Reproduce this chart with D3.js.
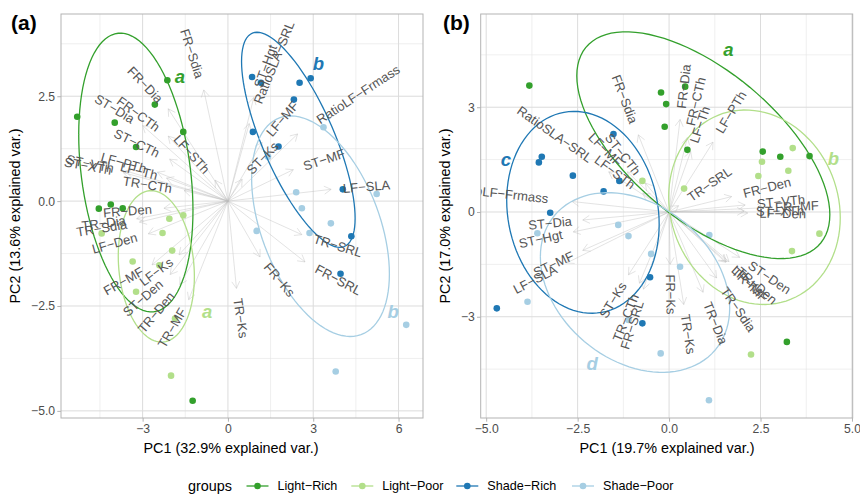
<!DOCTYPE html>
<html>
<head>
<meta charset="utf-8">
<script src="https://cdn.jsdelivr.net/npm/d3@7"></script>
<style>
  body { margin: 0; background: #fff; }
  svg text { font-family: "Liberation Sans", Arial, Helvetica, sans-serif; }
</style>
</head>
<body>
<svg id="chart" width="860" height="496"></svg>
<script>
// ---- data: groups ----
const groupNames = ["Light-Rich", "Light-Poor", "Shade-Rich", "Shade-Poor"];
const groupColors = ["#33a02c", "#b2df8a", "#1f78b4", "#a6cee3"];

// ---- data: panel (a) scores ----
const lightRichA = [[-2.13, 2.88], [-2.57, 2.30], [-5.30, 2.01], [-3.98, 1.87], [-1.57, 1.65], [-3.23, 1.29], [-4.54, -0.18], [-4.12, -0.08], [-3.70, -0.17], [-1.24, -4.76]];
const lightPoorA = [[-1.57, -0.34], [-2.06, -0.42], [-4.44, -0.77], [-2.30, -0.76], [-1.96, -1.18], [-3.35, -1.44], [-2.41, -1.53], [-3.23, -2.16], [-1.86, -2.80], [-2.00, -4.16]];
const shadeRichA = [[0.85, 2.96], [1.16, 2.82], [2.52, 2.82], [2.91, 2.93], [2.32, 2.42], [0.88, 1.65], [1.78, 1.30], [4.04, 0.28], [4.34, -0.84], [3.96, -1.73]];
const shadePoorA = [[3.36, 1.76], [5.23, 0.17], [2.40, 0.21], [2.60, -0.17], [3.62, -0.53], [1.01, -0.71], [2.87, -0.76], [6.27, -2.95], [3.79, -4.06], [1.41, 1.06]];

// ---- data: panel (b) scores ----
const lightRichB = [[-3.82, 3.62], [-0.22, 3.42], [-0.08, 3.09], [-0.12, 2.44], [0.44, 3.59], [0.50, 1.78], [2.56, 1.73], [3.04, 1.58], [3.84, 1.60], [3.22, -3.72]];
const lightPoorB = [[-0.73, 0.89], [0.41, 0.67], [3.38, 1.83], [2.54, 1.44], [3.26, 1.18], [2.44, 1.03], [4.11, -0.62], [3.36, -1.12], [2.24, -4.08]];
const shadeRichB = [[-1.52, 2.23], [-3.48, 1.58], [-3.56, 1.42], [-2.63, 1.04], [-1.36, 0.89], [-1.79, 0.59], [-3.25, -0.02], [-4.71, -2.76], [-0.52, -1.87], [-0.73, -3.19]];
const shadePoorB = [[-3.60, -0.61], [-1.39, -0.37], [-1.11, -0.69], [-0.49, -1.20], [-3.87, -2.57], [-1.11, -3.09], [-0.23, -4.05], [1.10, -0.66], [0.30, -1.57], [1.09, -5.39]];

// ---- data: trait loadings (arrow tips) ----
const varNames = ["FR-Sdia", "FR-Dia", "FR-CTh", "FR-Den", "FR-MF", "FR-Ks", "FR-SRL",
  "ST-Dia", "ST-CTh", "ST-XTh", "ST-VTh", "ST-Den", "ST-MF", "ST-Ks", "ST-Hgt",
  "LF-STh", "LF-PTh", "LF-Th", "LF-Den", "LF-Ks", "LF-SLA", "LF-MF",
  "TR-CTh", "TR-Dia", "TR-Sdia", "TR-Den", "TR-MF", "TR-Ks", "TR-SRL",
  "RatioLF-Frmass", "RatioSLA-SRL"];
const loadA = [[-0.85, 2.65], [-2.1, 2.2], [-2.1, 1.55], [-2.25, -0.17], [-2.67, -1.52], [1.13, -1.33], [2.71, -1.45],
  [-3.0, 1.8], [-2.05, 1.0], [-3.68, 0.68], [-3.6, 0.72], [-2.03, -1.75], [2.3, 0.75], [0.5, 0.52], [0.91, 2.47],
  [-0.45, 0.5], [-2.48, 0.69], [-2.16, 0.55], [-2.8, -0.78], [-1.72, -1.28], [3.63, 0.28], [1.2, 1.4],
  [-1.54, 0.25], [-3.21, -0.42], [-3.11, -0.5], [-1.69, -1.99], [-1.38, -2.35], [0.3, -2.08], [2.6, -0.8],
  [2.45, 1.6], [0.75, 1.85]];
const loadB = [[-0.84, 2.21], [0.3, 2.65], [0.5, 2.13], [1.71, 0.44], [2.6, 0.12], [0.03, -1.5], [-0.7, -2.21],
  [-2.36, -0.23], [-0.65, 0.83], [2.05, 0.02], [2.08, 0.2], [1.93, -1.3], [-2.36, -1.1], [-1.11, -1.8], [-2.62, -0.57],
  [-0.72, 0.54], [1.2, 2.0], [0.59, 1.73], [2.15, -0.03], [1.57, -1.42], [-2.8, -1.46], [-1.14, 1.15],
  [-0.81, -2.04], [0.93, -2.3], [1.3, -1.89], [1.64, -1.42], [1.55, -1.44], [0.4, -2.65], [0.26, 0.18],
  [-2.65, 0.3], [-1.65, 1.15]];

// ---- data: group letters (annotations) ----
const lettersA = [["a", 0, -1.69, 2.98], ["b", 2, 3.18, 3.28], ["a", 1, -0.73, -2.64], ["b", 3, 5.81, -2.64]];
const lettersB = [["a", 0, 1.62, 4.64], ["b", 1, 4.49, 1.54], ["c", 2, -4.46, 1.51], ["d", 3, -2.10, -4.34]];

// ---- tick labels ----
const xTicksA = [-3, 0, 3, 6], xLabelsA = ["\u22123", "0", "3", "6"];
const yTicksA = [-5, -2.5, 0, 2.5], yLabelsA = ["\u22125.0", "\u22122.5", "0.0", "2.5"];
const xTicksB = [-5, -2.5, 0, 2.5, 5], xLabelsB = ["\u22125.0", "\u22122.5", "0.0", "2.5", "5.0"];
const yTicksB = [-3, 0, 3], yLabelsB = ["\u22123", "0", "3"];

const minus = s => s.replace(/-/g, "\u2212");
const svg = d3.select("#chart");

// 68% normal-probability ellipse, as in ggbiplot
function ellipsePts(pts) {
  const n = pts.length;
  const mx = d3.mean(pts, d => d[0]), my = d3.mean(pts, d => d[1]);
  let sxx = 0, syy = 0, sxy = 0;
  pts.forEach(d => {
    sxx += (d[0] - mx) ** 2; syy += (d[1] - my) ** 2; sxy += (d[0] - mx) * (d[1] - my);
  });
  sxx /= n - 1; syy /= n - 1; sxy /= n - 1;
  const a = Math.sqrt(sxx), b = sxy / a, c = Math.sqrt(syy - b * b);
  const ed = Math.sqrt(-2 * Math.log(1 - 0.68));
  return d3.range(101).map(k => {
    const th = -Math.PI + 2 * Math.PI * k / 100;
    const co = Math.cos(th), si = Math.sin(th);
    return [mx + ed * co * a, my + ed * (co * b + si * c)];
  });
}

function drawPanel(cfg) {
  const x = d3.scaleLinear().domain(cfg.xDomain).range([cfg.left, cfg.right]);
  const y = d3.scaleLinear().domain(cfg.yDomain).range([cfg.bottom, cfg.top]);
  const w = cfg.right - cfg.left, h = cfg.bottom - cfg.top;

  svg.append("clipPath").attr("id", cfg.id)
    .append("rect").attr("x", cfg.left).attr("y", cfg.top).attr("width", w).attr("height", h);

  // grid
  const grid = svg.append("g");
  cfg.xMinor.forEach(v => grid.append("line").attr("x1", x(v)).attr("x2", x(v)).attr("y1", cfg.top).attr("y2", cfg.bottom)
    .attr("stroke", "#e4e4e4").attr("stroke-width", 0.6));
  cfg.yMinor.forEach(v => grid.append("line").attr("y1", y(v)).attr("y2", y(v)).attr("x1", cfg.left).attr("x2", cfg.right)
    .attr("stroke", "#e4e4e4").attr("stroke-width", 0.6));
  cfg.xTicks.forEach(v => grid.append("line").attr("x1", x(v)).attr("x2", x(v)).attr("y1", cfg.top).attr("y2", cfg.bottom)
    .attr("stroke", "#dcdcdc").attr("stroke-width", 1));
  cfg.yTicks.forEach(v => grid.append("line").attr("y1", y(v)).attr("y2", y(v)).attr("x1", cfg.left).attr("x2", cfg.right)
    .attr("stroke", "#dcdcdc").attr("stroke-width", 1));

  const body = svg.append("g").attr("clip-path", `url(#${cfg.id})`);

  // arrows
  cfg.loads.forEach(d => {
    const x1 = x(d[0]), y1 = y(d[1]), x0 = x(0), y0 = y(0);
    const ang = Math.atan2(y1 - y0, x1 - x0), L = 8;
    const a1 = ang + Math.PI - Math.PI / 6, a2 = ang + Math.PI + Math.PI / 6;
    body.append("path")
      .attr("d", `M${x0},${y0}L${x1},${y1}M${x1 + L * Math.cos(a1)},${y1 + L * Math.sin(a1)}L${x1},${y1}L${x1 + L * Math.cos(a2)},${y1 + L * Math.sin(a2)}`)
      .attr("fill", "none").attr("stroke", "#bcbcbc").attr("stroke-opacity", 0.6).attr("stroke-width", 0.7);
  });

  // points
  cfg.groups.forEach((pts, gi) => {
    body.selectAll(null).data(pts).enter().append("circle")
      .attr("cx", d => x(d[0])).attr("cy", d => y(d[1])).attr("r", 3.3)
      .attr("fill", groupColors[gi]);
  });

  // ellipses
  const line = d3.line().x(d => x(d[0])).y(d => y(d[1]));
  cfg.groups.forEach((pts, gi) => {
    body.append("path").datum(ellipsePts(pts)).attr("d", line)
      .attr("fill", "none").attr("stroke", groupColors[gi]).attr("stroke-width", 1.3);
  });

  // trait labels, rotated like ggbiplot
  varNames.forEach((n, i) => {
    const [vx, vy] = cfg.loads[i];
    const ang = Math.atan(vy / vx) * 180 / Math.PI;
    const t = body.append("text")
      .attr("transform", `translate(${x(vx)},${y(vy)}) rotate(${-ang})`)
      .attr("dy", "0.35em").attr("font-size", 13).attr("fill", "#555")
      .text(minus(n));
    const tw = t.node().getComputedTextLength();
    if (vx > 0) t.attr("text-anchor", "start").attr("x", 0.25 * tw);
    else t.attr("text-anchor", "end").attr("x", -0.25 * tw);
  });

  // group letters
  cfg.letters.forEach(d => {
    body.append("text").attr("x", x(d[2])).attr("y", y(d[3])).attr("dy", "0.35em")
      .attr("text-anchor", "middle").attr("font-size", 18.5).attr("font-weight", "bold")
      .attr("font-style", "italic").attr("fill", groupColors[d[1]]).text(d[0]);
  });

  // border
  svg.append("rect").attr("x", cfg.left).attr("y", cfg.top).attr("width", w).attr("height", h)
    .attr("fill", "none").attr("stroke", "#b3b3b3").attr("stroke-width", 1);

  // axes
  const xa = svg.append("g").attr("transform", `translate(0,${cfg.bottom})`)
    .call(d3.axisBottom(x).tickValues(cfg.xTicks).tickFormat((d, i) => cfg.xLabels[i]).tickSize(3.7).tickPadding(2.3));
  const ya = svg.append("g").attr("transform", `translate(${cfg.left},0)`)
    .call(d3.axisLeft(y).tickValues(cfg.yTicks).tickFormat((d, i) => cfg.yLabels[i]).tickSize(3.7).tickPadding(2.2));
  [xa, ya].forEach(a => {
    a.select(".domain").remove();
    a.selectAll(".tick line").attr("stroke", "#b3b3b3");
    a.selectAll(".tick text").attr("fill", "#4d4d4d").attr("font-size", 12.2)
      .attr("font-family", "'Liberation Sans', Arial, sans-serif");
  });

  // titles
  svg.append("text").attr("x", cfg.xTitleX).attr("y", 448).attr("dy", "0.35em")
    .attr("text-anchor", "middle").attr("font-size", 14.4).text(cfg.xTitle);
  svg.append("text").attr("transform", `translate(${cfg.yTitleX},${(cfg.top + cfg.bottom) / 2}) rotate(-90)`)
    .attr("dy", "0.35em").attr("text-anchor", "middle").attr("font-size", 14.4).text(cfg.yTitle);
  svg.append("text").attr("x", cfg.tagX).attr("y", 30).attr("font-size", 21).attr("font-weight", "bold").text(cfg.tag);
}

drawPanel({
  id: "clipA", left: 61, right: 423, top: 14, bottom: 418,
  xDomain: [-5.87, 6.86], yDomain: [-5.17, 4.46],
  xTicks: xTicksA, xLabels: xLabelsA, yTicks: yTicksA, yLabels: yLabelsA,
  xMinor: [-4.5, -1.5, 1.5, 4.5], yMinor: [-3.75, -1.25, 1.25, 3.75],
  groups: [lightRichA, lightPoorA, shadeRichA, shadePoorA], loads: loadA, letters: lettersA,
  xTitle: "PC1 (32.9% explained var.)", yTitle: "PC2 (13.6% explained var.)",
  xTitleX: 231, yTitleX: 15, tag: "(a)", tagX: 11
});
drawPanel({
  id: "clipB", left: 480.7, right: 852.7, top: 14, bottom: 418,
  xDomain: [-5.15, 5.02], yDomain: [-5.9, 5.67],
  xTicks: xTicksB, xLabels: xLabelsB, yTicks: yTicksB, yLabels: yLabelsB,
  xMinor: [-3.75, -1.25, 1.25, 3.75], yMinor: [-4.5, -1.5, 1.5, 4.5],
  groups: [lightRichB, lightPoorB, shadeRichB, shadePoorB], loads: loadB, letters: lettersB,
  xTitle: "PC1 (19.7% explained var.)", yTitle: "PC2 (17.0% explained var.)",
  xTitleX: 667, yTitleX: 445, tag: "(b)", tagX: 443
});

// legend
const legY = 486;
svg.append("text").attr("x", 188).attr("y", legY).attr("dy", "0.35em").attr("font-size", 14.4).text("groups");
const keyX = [257.5, 362.3, 467.3, 583];
groupNames.forEach((g, i) => {
  svg.append("line").attr("x1", keyX[i] - 11).attr("x2", keyX[i] + 11).attr("y1", legY).attr("y2", legY)
    .attr("stroke", groupColors[i]).attr("stroke-width", 1.3);
  svg.append("circle").attr("cx", keyX[i]).attr("cy", legY).attr("r", 3.3).attr("fill", groupColors[i]);
  svg.append("text").attr("x", keyX[i] + 20).attr("y", legY).attr("dy", "0.35em")
    .attr("font-size", 12.6).text(minus(g));
});
</script>
</body>
</html>
